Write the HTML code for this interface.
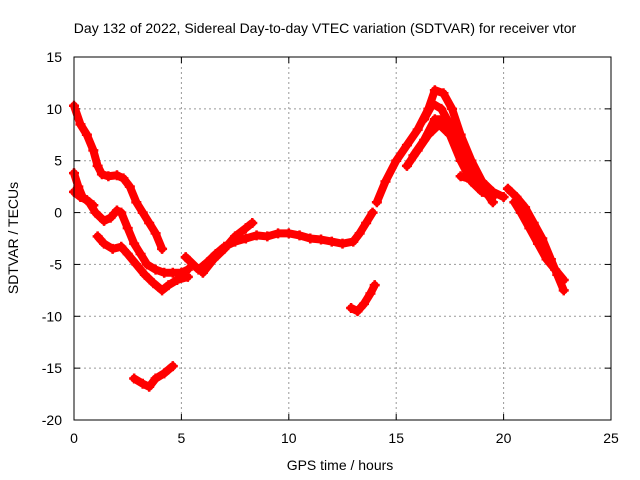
<!DOCTYPE html>
<html><head><meta charset="utf-8"><style>
body{margin:0;background:#fff}
svg{display:block;font-family:"Liberation Sans",sans-serif}
</style></head><body>
<svg id="c" width="640" height="480" viewBox="0 0 640 480">
<rect width="640" height="480" fill="#fff"/>
<text x="325" y="33" font-size="14" text-anchor="middle">Day 132 of 2022, Sidereal Day-to-day VTEC variation (SDTVAR) for receiver vtor</text>
<text x="340" y="470" font-size="14" text-anchor="middle">GPS time / hours</text>
<text x="0" y="0" font-size="14" text-anchor="middle" transform="translate(18,238) rotate(-90)">SDTVAR / TECUs</text>
<g id="grid"></g><g id="series"></g>
<rect x="74" y="57" width="537" height="363" fill="none" stroke="#000"/>
</svg>
<script>
const xTicks=[0,5,10,15,20,25];
const yTicks=[15,10,5,0,-5,-10,-15,-20];
const trackA=[[0,10.3],[0.3,8.5],[0.6,7.5],[0.9,6],[1.1,4.5],[1.3,3.7],[1.6,3.5],[2,3.6],[2.3,3.3],[2.6,2.5],[2.9,1],[3.2,0],[3.5,-1],[3.8,-2],[4.1,-3.5]];
const trackB=[[0,3.8],[0.2,2.5],[0.4,1.5],[0.7,1],[1,0],[1.4,-0.8],[1.7,-0.5],[2,0.2],[2.2,0],[2.5,-1.5],[2.8,-3],[3.1,-4],[3.4,-5],[3.8,-5.5],[4.2,-5.8],[4.6,-5.8],[5,-5.8],[5.3,-5.5]];
const trackC=[[0,2],[0.3,1.5],[0.6,1.2],[0.9,0.7]];
const trackD=[[1.1,-2.3],[1.4,-3],[1.8,-3.5],[2.2,-3.3],[2.5,-4],[2.9,-5],[3.3,-6],[3.7,-6.8],[4.1,-7.5],[4.4,-7],[4.8,-6.5],[5.3,-6.2]];
const trackE=[[2.8,-16],[3.2,-16.5],[3.5,-16.8],[3.8,-16],[4.2,-15.5],[4.6,-14.8]];
const trackF=[[5.2,-4.3],[5.8,-5.5],[6.2,-4.8],[6.6,-4],[7,-3.3],[7.5,-2.8],[8,-2.5],[8.5,-2.2],[9,-2.3],[9.5,-2],[10,-2],[10.5,-2.2],[11,-2.5],[11.5,-2.6],[12,-2.8],[12.5,-3],[13,-2.8],[13.3,-2],[13.6,-1],[13.9,0]];
const trackF2=[[6,-5.8],[6.5,-4.5],[7,-3.5],[7.5,-2.3],[8,-1.5],[8.3,-1]];
const trackG=[[12.9,-9.2],[13.2,-9.5],[13.5,-8.8],[13.8,-7.8],[14,-7]];
const trackH=[[14.1,1],[14.5,3],[15,5],[15.5,6.5],[16,8],[16.5,10],[16.8,11.8],[17.2,11.5],[17.6,10],[18,7.5],[18.5,5],[19,3],[19.5,2],[20,1.5]];
const trackH2=[[15.5,4.5],[16,6],[16.5,7.5],[17,8.5],[17.5,7.5],[18,5],[18.5,3],[19,2],[19.5,1.5]];
const trackH3=[[15.8,5.5],[16.3,7],[16.8,9],[17.3,9],[17.8,7],[18.3,4.5],[18.8,3],[19.3,2]];
const trackH4=[[16.3,9],[16.7,10.5],[17.1,10],[17.5,8.5],[18,6],[18.5,4],[19.5,1]];
const trackI=[[20.2,2.3],[20.6,1.5],[21,0.5],[21.4,-1],[21.8,-2.5],[22.2,-4.5],[22.5,-6],[22.8,-7.5]];
const trackI2=[[20.5,1],[20.8,0],[21.2,-1.5],[21.6,-3],[22,-4.5],[22.4,-5.5],[22.8,-6.5]];
const trackJ=[[18,3.5],[18.5,3.2],[19,2.5]];
const tracks=[trackA,trackB,trackC,trackD,trackE,trackF,trackF2,trackG,trackH,trackH2,trackH3,trackH4,trackI,trackI2,trackJ];
const NS="http://www.w3.org/2000/svg";
const X=v=>74+v*537/25, Y=v=>57+(15-v)*363/35;
function mk(t,a,p){const e=document.createElementNS(NS,t);for(const k in a)e.setAttribute(k,a[k]);p.appendChild(e);return e;}
const g=document.getElementById('grid'), s=document.getElementById('series');
xTicks.forEach(t=>{
 if(t>0&&t<25){const l=mk('line',{x1:X(t),x2:X(t),y1:57,y2:420,stroke:'#999','stroke-dasharray':'2,3'},g);
 
 }
 mk('line',{x1:X(t),x2:X(t),y1:420,y2:414,stroke:'#000'},g);mk('line',{x1:X(t),x2:X(t),y1:57,y2:63,stroke:'#000'},g);
 const tx=mk('text',{x:X(t),y:443,'font-size':14,'text-anchor':'middle'},g);tx.textContent=t;
 
 
});
yTicks.forEach(t=>{
 if(t<15&&t>-20){const l=mk('line',{x1:74,x2:611,y1:Y(t),y2:Y(t),stroke:'#999','stroke-dasharray':'2,3'},g);
 
 }
 mk('line',{x1:74,x2:80,y1:Y(t),y2:Y(t),stroke:'#000'},g);mk('line',{x1:605,x2:611,y1:Y(t),y2:Y(t),stroke:'#000'},g);
 const tx=mk('text',{x:62,y:Y(t)+5,'font-size':14,'text-anchor':'end'},g);tx.textContent=t;
 
 
});
tracks.forEach(tr=>{
 const pl=mk('polyline',{points:tr.map(p=>X(p[0])+','+Y(p[1])).join(' '),fill:'none',stroke:'#f00','stroke-width':8,'stroke-linejoin':'round','stroke-linecap':'round'},s);
 
 
 tr.forEach(p=>{const x=X(p[0]),y=Y(p[1]);
  const m=mk('path',{d:`M${x-5},${y}H${x+5}M${x},${y-5}V${y+5}`,stroke:'#f00','stroke-width':2.5},s);
  
  
 });
});
</script>
</body></html>
